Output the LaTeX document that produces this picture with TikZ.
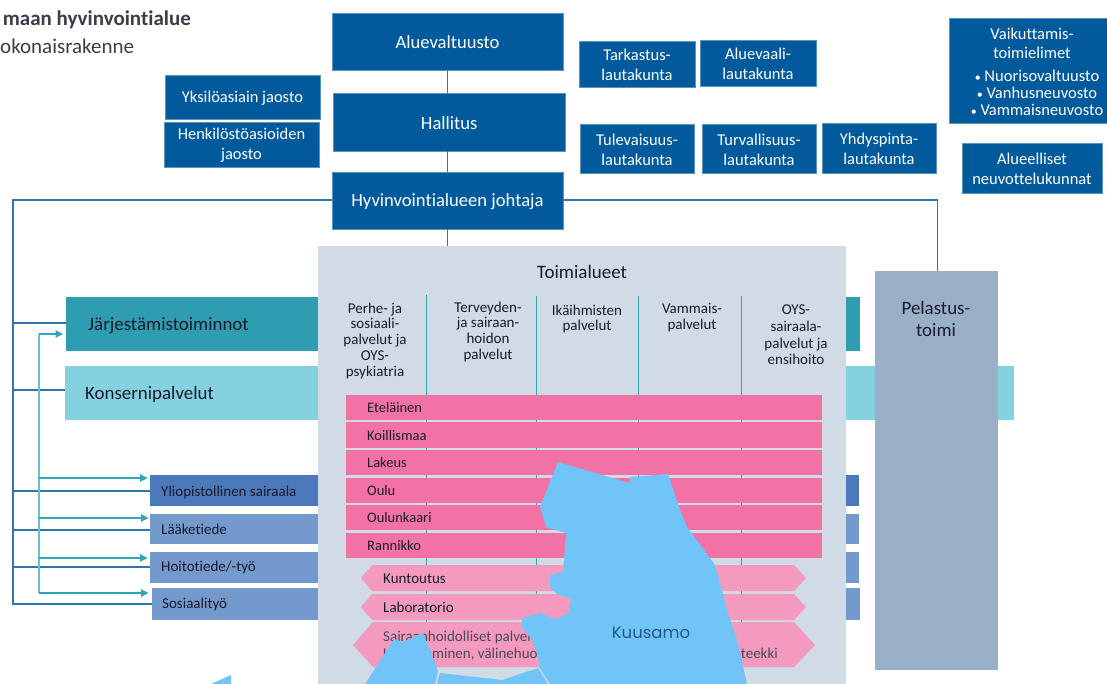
\documentclass[tikz,border=0pt]{standalone}
\usepackage{fontspec}
\setmainfont{Carlito}[Ligatures={NoCommon}]
\newfontfamily\kuufont{Poppins}
\definecolor{navy}{HTML}{005A9C}
\definecolor{teal1}{HTML}{2E9DB2}
\definecolor{teal2}{HTML}{84D2DF}
\definecolor{panel}{HTML}{D1DBE6}
\definecolor{pink1}{HTML}{F272A6}
\definecolor{pink2}{HTML}{F49ABE}
\definecolor{blue1}{HTML}{4B79BC}
\definecolor{blue2}{HTML}{7499CC}
\definecolor{rescue}{HTML}{9AB0C8}
\definecolor{map}{HTML}{71C4F8}
\definecolor{linkb}{HTML}{2F75AE}
\definecolor{linkt}{HTML}{2FA5B8}
\definecolor{linkv}{HTML}{6CC0CE}
\definecolor{ink}{HTML}{1A1A2A}
\usetikzlibrary{arrows.meta}
\tikzset{
 x=1pt,y=-1pt,
 orgb/.style={fill=navy,draw=navy!65!white,line width=0.5pt,inner sep=0pt,outer sep=0pt},
 orgt/.style={text=white,align=center,inner sep=0pt},
 big/.style={font=\fontsize{18.6}{21}\selectfont},
 mid/.style={font=\fontsize{16.5}{20}\selectfont},
 bar/.style={anchor=north west,inner sep=0pt,outer sep=0pt},
 bart/.style={inner sep=0pt,anchor=west,text=ink},
 blink/.style={draw=linkb,line width=1.2pt},
 tlink/.style={draw=linkv,line width=1.2pt},
 tarrow/.style={draw=linkt,line width=1.1pt,-{Triangle[length=7.5pt,width=7.5pt]}},
 div/.style={draw=linkt,line width=1pt},
 head/.style={text=ink,font=\fontsize{15}{15.8}\selectfont,align=center,inner sep=0pt,anchor=north},
 rowl/.style={text=ink,font=\fontsize{14.5}{16}\selectfont,anchor=west,inner sep=0pt},
 faint/.style={rowl,font=\fontsize{15}{17}\selectfont,text=ink!75!panel},
}
\newcommand{\orgbox}[7]{%
 \node[orgb,minimum width={(#4-#2)*1pt},minimum height={(#5-#3)*1pt}] (#1) at ({(#2+#4)/2},{(#3+#5)/2}) {};
 \node[orgt,#6] (#1t) at ([yshift=-0.8pt]#1.center) {#7};
}
\begin{document}
\begin{tikzpicture}
\useasboundingbox (0,0) rectangle (1107,684);
\fill[white] (0,0) rectangle (1107,684);
% title
\node[anchor=east,inner sep=0pt,text=ink!85!white,font=\fontsize{21}{22}\selectfont\bfseries] (t1) at (191,19.5) {maan hyvinvointialue};
\node[anchor=west,inner sep=0pt,text=ink!85!white,font=\fontsize{21}{22}\selectfont] (t2) at (0,46.5) {okonaisrakenne};
% connector coordinates
\coordinate (ltop) at (13,200);
\coordinate (lbot) at (13,604);
\coordinate (tx) at (39,334);
\coordinate (txb) at (39,593);
% main org
\orgbox{valt}{332}{13}{563}{70}{big}{Aluevaltuusto}
\orgbox{hall}{333.5}{93.5}{565}{151}{big}{Hallitus}
\orgbox{joht}{332}{172}{563}{229.5}{big}{Hyvinvointialueen johtaja}
\draw[blink] (valt.south -| joht.south) -- (hall.north -| joht.south);
\draw[blink] (hall.south -| joht.south) -- (joht.north);
\orgbox{yks}{165}{75}{320}{119}{mid}{Yksilöasiain jaosto}
\orgbox{hen}{164}{122}{319}{167}{mid}{Henkilöstöasioiden\\jaosto}
\orgbox{tark}{579}{41}{695}{87}{mid}{Tarkastus-\\lautakunta}
\orgbox{alva}{700}{40}{816}{86}{mid}{Aluevaali-\\lautakunta}
\orgbox{tule}{580}{124}{694}{173.5}{mid}{Tulevaisuus-\\lautakunta}
\orgbox{turv}{702}{124}{816}{173.5}{mid}{Turvallisuus-\\lautakunta}
\orgbox{yhd}{822}{123.5}{936}{173}{mid}{Yhdyspinta-\\lautakunta}
\node[orgb,minimum width=158pt,minimum height=105pt] (vaik) at (1028.5,70.5) {};
\node[orgt,font=\fontsize{16.5}{19}\selectfont] (vaik1) at (1032,43) {Vaikuttamis-\\toimielimet};
\node[orgt,font=\fontsize{16.5}{17}\selectfont] (vaik2) at (1037,93) {{\fontsize{12}{17}\selectfont•} Nuorisovaltuusto\\{\fontsize{12}{17}\selectfont•} Vanhusneuvosto\\{\fontsize{12}{17}\selectfont•} Vammaisneuvosto};
\orgbox{neuv}{962}{143}{1102}{193}{mid}{Alueelliset\\neuvottelukunnat}
% wide bars
\node[bar,fill=teal1,minimum width=794pt,minimum height=54pt] (jarj) at (66,297.3) {};
\node[bart,font=\fontsize{18.9}{20}\selectfont] (jarjt) at (88,325.5) {Järjestämistoiminnot};
\node[bar,fill=teal2,minimum width=949pt,minimum height=54pt] (kons) at (65,366) {};
\node[bart,font=\fontsize{18.9}{20}\selectfont] (konst) at (85,394) {Konsernipalvelut};
\node[bar,fill=blue1,minimum width=709pt,minimum height=31pt] (yo) at (150,475) {};
\node[bart,font=\fontsize{15}{16}\selectfont] (yot) at (161,492) {Yliopistollinen sairaala};
\node[bar,fill=blue2,minimum width=709pt,minimum height=30.5pt] (laak) at (150,513.5) {};
\node[bart,font=\fontsize{15}{16}\selectfont] (laakt) at (161,529.5) {Lääketiede};
\node[bar,fill=blue2,minimum width=709pt,minimum height=31pt] (hoi) at (150,551.7) {};
\node[bart,font=\fontsize{15}{16}\selectfont] (hoit) at (161,567) {Hoitotiede/-työ};
\node[bar,fill=blue2,minimum width=708pt,minimum height=31.5pt] (sos) at (151.5,588) {};
\node[bart,font=\fontsize{15}{16}\selectfont] (sost) at (162,604.5) {Sosiaalityö};
% connectors under the panel
\coordinate (jl) at (jarj.west |- 0,323);
\coordinate (kl) at (kons.west |- 0,390);
\coordinate (yl) at (yo.west |- 0,491);
\coordinate (ll) at (laak.west |- 0,530);
\coordinate (hl) at (hoi.west |- 0,567);
\draw[blink] (joht.west |- ltop) -- (ltop) -- (lbot) -- (sos.west |- lbot);
\foreach \c in {jl,kl,yl,ll,hl} \draw[blink] (ltop |- \c) -- (\c);
\draw[tlink] (txb) -- (tx);
\draw[tarrow] (tx) -- (63,334);
\draw[tarrow] (39,478) -- (147.5,478);
\draw[tarrow] (39,518) -- (148.5,518);
\draw[tarrow] (39,558) -- (147.5,558);
\draw[tarrow] (txb) -- (148.5,593);
% rescue
\node[bar,fill=rescue,minimum width=123pt,minimum height=398pt] (pel) at (875,271.5) {};
\node[inner sep=0pt,align=center,text=ink,font=\fontsize{18.9}{22}\selectfont] (pelt) at (936,319) {Pelastus-\\toimi};
% panel
\node[bar,fill=panel,minimum width=527.5pt,minimum height=440pt] (panel) at (318,246) {};
\node[inner sep=0pt,text=ink,font=\fontsize{19}{20}\selectfont] (toim) at (582,271.5) {Toimialueet};
\draw[blink] (joht.south) -- (joht.south |- panel.north);
\draw[blink] (joht.east |- ltop) -- (937.5,200) -- (937.5,271.5);
% dividers
\draw[div] (426.5,295) -- (426.5,625);
\draw[div] (536.5,296) -- (536.5,625);
\draw[div] (638.5,296) -- (638.5,625);
\draw[div] (741,296) -- (741,625);
% heads
\node[head] (h1) at (375,302.5) {Perhe- ja\\sosiaali-\\palvelut ja\\OYS-\\psykiatria};
\node[head] (h2) at (488,301.5) {Terveyden-\\ja sairaan-\\hoidon\\palvelut};
\node[head] (h3) at (587,304.5) {Ikäihmisten\\palvelut};
\node[head,font=\fontsize{15}{16.8}\selectfont] (h4) at (692,302.5) {Vammais-\\palvelut};
\node[head,font=\fontsize{15}{16.8}\selectfont] (h5) at (796,304.5) {OYS-\\sairaala-\\palvelut ja\\ensihoito};
% pink rows
\foreach \nm/\lab/\ya/\yb in {r1/Eteläinen/395/420,r2/Koillismaa/422/448,r3/Lakeus/450/475,r4/Oulu/478/503,r5/Oulunkaari/505/530,r6/Rannikko/533/558}{
 \fill[pink1] (346,\ya) rectangle (822,\yb);
 \node[rowl] (\nm) at (367,{(\ya+\yb)/2+0.5}) {\lab};
}
% arrows
\fill[pink2] (361,578) -- (372,565) -- (794,565) -- (806,578) -- (794,591) -- (372,591) -- cycle;
\node[rowl,font=\fontsize{15}{16}\selectfont] (ku) at (383,579) {Kuntoutus};
\fill[pink2] (361,607) -- (372,594) -- (794,594) -- (806,607) -- (794,620) -- (372,620) -- cycle;
\node[rowl,font=\fontsize{15}{16}\selectfont] (la) at (383,607.5) {Laboratorio};
\fill[pink2] (353,645) -- (373,622) -- (794,622) -- (815,645) -- (794,667) -- (373,667) -- cycle;
\node[faint] (sa) at (383,637) {Sairaanhoidolliset palvelut};
\node[faint] (sb) at (383,654) {Kuvantaminen, välinehuolto};
\node[faint,anchor=east] (sc) at (778,654) {apteekki};
% map overlay
\fill[map] (558,462) -- (629,483) -- (630,477) -- (668,474) -- (680,510) -- (687,527) -- (715,565) -- (720,583) -- (728,613) -- (737,640) -- (747,684) -- (550,684) -- (539,667) -- (538,657) -- (532,640) -- (522,627) -- (522,618) -- (540,613) -- (555,619) -- (568,614) -- (571,599) -- (557,594) -- (550,587) -- (550,575) -- (563,572) -- (566,533) -- (546,527) -- (540,507) -- cycle;
\fill[map] (365,684) -- (394,639) -- (403,642) -- (423,633) -- (438,671) -- (435,684) -- cycle;
\fill[map] (437,684) -- (440,673) -- (502,680) -- (538,668) -- (548,684) -- cycle;
\fill[map] (211,684) -- (231,675) -- (231,684) -- cycle;
\node[inner sep=0pt,text=black!25!linkb,font=\fontsize{16.5}{18}\selectfont\kuufont] (kuu) at (651,633) {Kuusamo};
\end{tikzpicture}
\end{document}
